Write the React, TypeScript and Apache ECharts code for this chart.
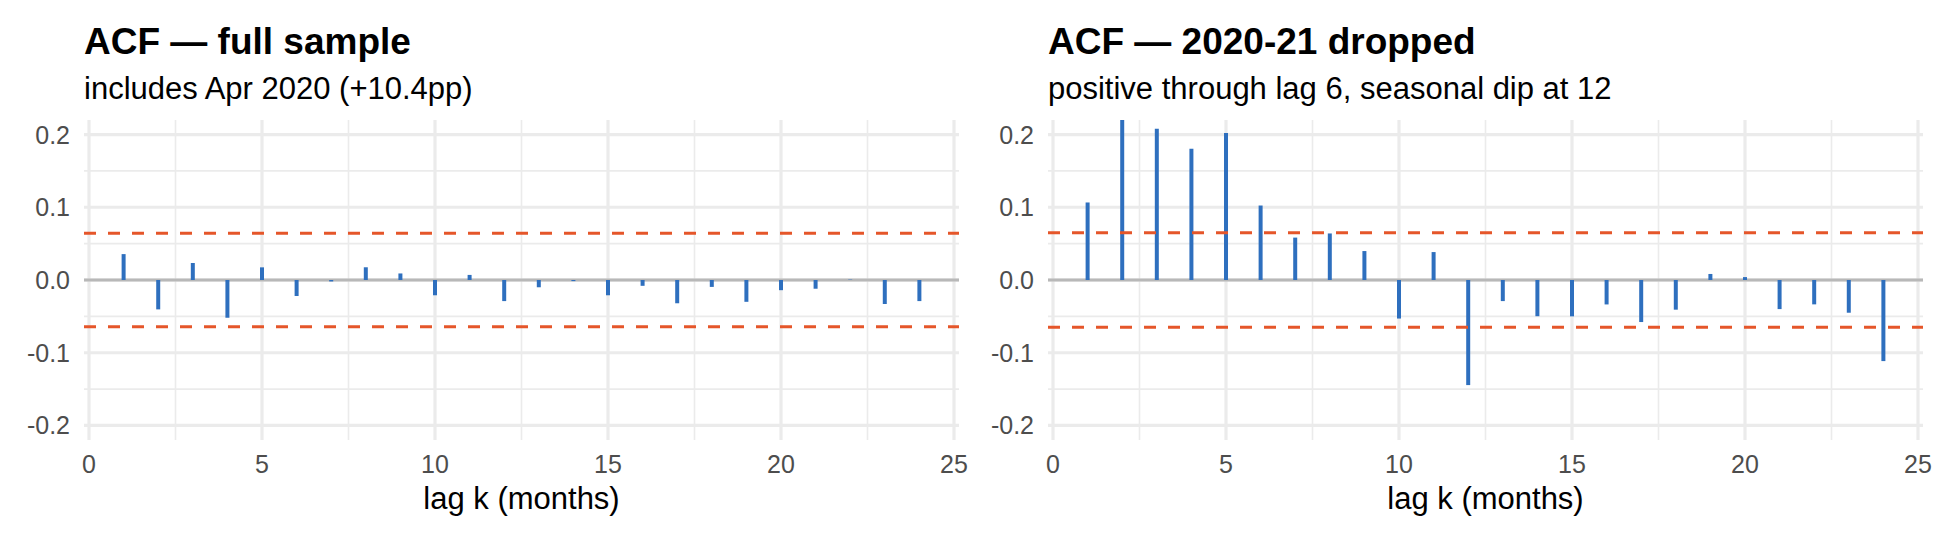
import React, { useEffect, useRef } from "react";
import * as echarts from "echarts";

// ---- data ----
const LAGS = [1, 2, 3, 4, 5, 6, 7, 8, 9, 10, 11, 12, 13, 14, 15, 16, 17, 18, 19, 20, 21, 22, 23, 24];
const ACF_FULL = [
  0.0356, -0.0404, 0.0234, -0.0519, 0.0174, -0.022, -0.002, 0.0175, 0.009, -0.021, 0.007, -0.029,
  -0.01, -0.0015, -0.021, -0.008, -0.032, -0.0095, -0.03, -0.014, -0.012, 0.0005, -0.033, -0.029,
];
const ACF_DROPPED = [
  0.1066, 0.22, 0.208, 0.1806, 0.202, 0.1024, 0.0583, 0.064, 0.0398, -0.053, 0.0384, -0.1445,
  -0.029, -0.0498, -0.05, -0.0336, -0.0578, -0.0408, 0.0083, 0.004, -0.04, -0.0335, -0.045, -0.1115,
];
const CI_FULL = 0.0643;
const CI_DROPPED = 0.065;
const Y_MAJOR = [-0.2, -0.1, 0, 0.1, 0.2];
const Y_MINOR = [-0.15, -0.05, 0.05, 0.15];
const X_MAJOR = [0, 5, 10, 15, 20, 25];
const X_MINOR = [2.5, 7.5, 12.5, 17.5, 22.5];
const TITLES = ["ACF — full sample", "ACF — 2020-21 dropped"];
const SUBTITLES = ["includes Apr 2020 (+10.4pp)", "positive through lag 6, seasonal dip at 12"];
const X_NAME = "lag k (months)";

// ---- layout / style ----
const FONT = "'Liberation Sans', Arial, Helvetica, sans-serif";
const PANEL_LEFT = [84, 1048];
const PANEL_W = 875;
const PANEL_TOP = 120;
const PANEL_H = 320;
const X_MIN = -0.145;
const X_MAX = 25.145;
const Y_MIN = -0.22;
const Y_MAX = 0.22;
const GRID_COLOR = "#EBEBEB";
const ZERO_COLOR = "#B8B8B8";
const STEM_COLOR = "#2E6FBE";
const CI_COLOR = "#E5562A";

function hLines(values: number[], width: number, color: string, dash: number[] | null, z: number, idx: number) {
  return {
    type: "custom",
    xAxisIndex: idx,
    yAxisIndex: idx,
    z,
    silent: true,
    data: values.map((v) => [0, v]),
    renderItem: (params: any, api: any) => {
      const cs = params.coordSys;
      const y = api.coord([0, api.value(1)])[1];
      return {
        type: "line",
        shape: { x1: cs.x, y1: y, x2: cs.x + cs.width, y2: y },
        style: { stroke: color, lineWidth: width, lineDash: dash || undefined, fill: null },
        silent: true,
      };
    },
  };
}

function vLines(values: number[], width: number, color: string, z: number, idx: number) {
  return {
    type: "custom",
    xAxisIndex: idx,
    yAxisIndex: idx,
    z,
    silent: true,
    data: values.map((v) => [v, 0]),
    renderItem: (params: any, api: any) => {
      const cs = params.coordSys;
      const x = api.coord([api.value(0), 0])[0];
      return {
        type: "line",
        shape: { x1: x, y1: cs.y, x2: x, y2: cs.y + cs.height },
        style: { stroke: color, lineWidth: width, fill: null },
        silent: true,
      };
    },
  };
}

function isMultiple(v: number, step: number) {
  const r = v / step;
  return Math.abs(r - Math.round(r)) < 1e-6;
}

export default function App() {
  const ref = useRef<HTMLDivElement>(null);

  useEffect(() => {
    document.body.style.margin = "0";
    if (!ref.current) return;
    const chart = echarts.init(ref.current, undefined, { renderer: "svg" });

    const panels = [
      { acf: ACF_FULL, ci: CI_FULL },
      { acf: ACF_DROPPED, ci: CI_DROPPED },
    ];

    const series: any[] = [];
    panels.forEach((p, i) => {
      series.push(hLines(Y_MINOR, 1.6, GRID_COLOR, null, 0, i));
      series.push(vLines(X_MINOR, 1.6, GRID_COLOR, 0, i));
      series.push(hLines(Y_MAJOR, 3.2, GRID_COLOR, null, 0, i));
      series.push(vLines(X_MAJOR, 3.2, GRID_COLOR, 0, i));
      series.push(hLines([0], 3, ZERO_COLOR, null, 1, i));
      series.push({
        type: "bar",
        xAxisIndex: i,
        yAxisIndex: i,
        z: 2,
        barWidth: 4,
        silent: true,
        itemStyle: { color: STEM_COLOR },
        data: LAGS.map((l, k) => [l, p.acf[k]]),
      });
      series.push(hLines([p.ci, -p.ci], 3, CI_COLOR, [12, 12], 3, i));
    });

    const option: any = {
      animation: false,
      backgroundColor: "#FFFFFF",
      textStyle: { fontFamily: FONT },
      title: PANEL_LEFT.flatMap((left, i) => [
        {
          left,
          top: 22.7,
          padding: 0,
          text: TITLES[i],
          textStyle: { fontSize: 37, fontWeight: "bold", color: "#000000", fontFamily: FONT },
        },
        {
          left,
          top: 72.8,
          padding: 0,
          text: SUBTITLES[i],
          textStyle: { fontSize: 31, fontWeight: "normal", color: "#000000", fontFamily: FONT },
        },
      ]),
      grid: PANEL_LEFT.map((left) => ({
        left,
        top: PANEL_TOP,
        width: PANEL_W,
        height: PANEL_H,
        containLabel: false,
        outerBoundsMode: "none",
      })),
      xAxis: PANEL_LEFT.map((_, i) => ({
        type: "value",
        gridIndex: i,
        min: X_MIN,
        max: X_MAX,
        axisLine: { show: false },
        axisTick: { show: false },
        splitLine: { show: false },
        minorSplitLine: { show: false },
        axisLabel: {
          customValues: X_MAJOR,
          formatter: (v: number) => (isMultiple(v, 5) ? String(Math.round(v)) : ""),
          fontSize: 25,
          color: "#4D4D4D",
          fontFamily: FONT,
          margin: 11,
          showMinLabel: true,
          showMaxLabel: true,
        },
        name: X_NAME,
        nameLocation: "middle",
        nameGap: 43,
        nameTextStyle: { fontSize: 31, color: "#000000", fontFamily: FONT },
      })),
      yAxis: PANEL_LEFT.map((_, i) => ({
        type: "value",
        gridIndex: i,
        min: Y_MIN,
        max: Y_MAX,
        axisLine: { show: false },
        axisTick: { show: false },
        splitLine: { show: false },
        minorSplitLine: { show: false },
        axisLabel: {
          customValues: Y_MAJOR,
          formatter: (v: number) => (isMultiple(v, 0.1) ? (Math.abs(v) < 1e-9 ? "0.0" : v.toFixed(1)) : ""),
          fontSize: 25,
          color: "#4D4D4D",
          fontFamily: FONT,
          margin: 14,
          showMinLabel: true,
          showMaxLabel: true,
        },
      })),
      series,
    };

    chart.setOption(option);
    return () => {
      chart.dispose();
    };
  }, []);

  return <div ref={ref} style={{ width: 1950, height: 540 }} />;
}
